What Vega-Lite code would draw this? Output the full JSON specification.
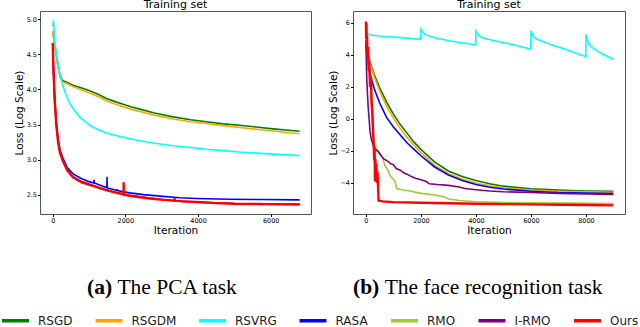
{
  "$schema": "https://vega.github.io/schema/vega-lite/v6.json",
  "padding": {"left": 0, "top": -2, "right": 0, "bottom": 0},
  "background": "white",
  "config": {
    "font": "DejaVu Sans",
    "view": {"stroke": "#555", "strokeWidth": 1},
    "axis": {"labelFont": "DejaVu Sans", "labelFontSize": 6.5, "labelColor": "#000", "titleFont": "DejaVu Sans", "titleFontSize": 10.5, "titleFontWeight": "normal", "titleColor": "#000", "tickSize": 2.5, "tickColor": "#000", "labelPadding": 1, "titlePadding": 1.5, "grid": false, "domain": false},
    "title": {"font": "DejaVu Sans", "fontSize": 11, "fontWeight": "normal", "color": "#000", "offset": 1.5},
    "legend": {"orient": "none", "legendX": -40, "legendY": 294, "direction": "horizontal", "symbolType": "stroke", "symbolSize": 729, "symbolStrokeWidth": 3.5, "labelFont": "DejaVu Sans", "labelFontSize": 12, "labelColor": "#222", "labelOffset": 7, "columnPadding": 15.5, "padding": 0}
  },
  "datasets": {
    "pca": [
      {"method":"RSGD","iter":0,"loss":4.82},{"method":"RSGD","iter":50,"loss":4.65},{"method":"RSGD","iter":100,"loss":4.48},{"method":"RSGD","iter":150,"loss":4.33},{"method":"RSGD","iter":200,"loss":4.2},{"method":"RSGD","iter":250,"loss":4.14},{"method":"RSGD","iter":300,"loss":4.12},{"method":"RSGD","iter":400,"loss":4.1},{"method":"RSGD","iter":560,"loss":4.06},{"method":"RSGD","iter":800,"loss":4.02},{"method":"RSGD","iter":1018,"loss":3.98},{"method":"RSGD","iter":1250,"loss":3.93},{"method":"RSGD","iter":1477,"loss":3.87},{"method":"RSGD","iter":1700,"loss":3.83},{"method":"RSGD","iter":1936,"loss":3.79},{"method":"RSGD","iter":2150,"loss":3.755},{"method":"RSGD","iter":2395,"loss":3.72},{"method":"RSGD","iter":2800,"loss":3.665},{"method":"RSGD","iter":3312,"loss":3.61},{"method":"RSGD","iter":3800,"loss":3.57},{"method":"RSGD","iter":4230,"loss":3.54},{"method":"RSGD","iter":4700,"loss":3.51},{"method":"RSGD","iter":5147,"loss":3.49},{"method":"RSGD","iter":5600,"loss":3.465},{"method":"RSGD","iter":6064,"loss":3.44},{"method":"RSGD","iter":6500,"loss":3.42},{"method":"RSGD","iter":6800,"loss":3.405},
      {"method":"RSGDM","iter":0,"loss":4.82},{"method":"RSGDM","iter":50,"loss":4.64},{"method":"RSGDM","iter":100,"loss":4.47},{"method":"RSGDM","iter":150,"loss":4.31},{"method":"RSGDM","iter":200,"loss":4.18},{"method":"RSGDM","iter":250,"loss":4.12},{"method":"RSGDM","iter":300,"loss":4.1},{"method":"RSGDM","iter":400,"loss":4.08},{"method":"RSGDM","iter":560,"loss":4.04},{"method":"RSGDM","iter":800,"loss":3.99},{"method":"RSGDM","iter":1018,"loss":3.95},{"method":"RSGDM","iter":1250,"loss":3.9},{"method":"RSGDM","iter":1477,"loss":3.84},{"method":"RSGDM","iter":1700,"loss":3.795},{"method":"RSGDM","iter":1936,"loss":3.755},{"method":"RSGDM","iter":2150,"loss":3.72},{"method":"RSGDM","iter":2395,"loss":3.685},{"method":"RSGDM","iter":2800,"loss":3.635},{"method":"RSGDM","iter":3312,"loss":3.58},{"method":"RSGDM","iter":3800,"loss":3.54},{"method":"RSGDM","iter":4230,"loss":3.515},{"method":"RSGDM","iter":4700,"loss":3.485},{"method":"RSGDM","iter":5147,"loss":3.46},{"method":"RSGDM","iter":5600,"loss":3.435},{"method":"RSGDM","iter":6064,"loss":3.41},{"method":"RSGDM","iter":6500,"loss":3.385},{"method":"RSGDM","iter":6800,"loss":3.37},
      {"method":"RSVRG","iter":0,"loss":4.9},{"method":"RSVRG","iter":20,"loss":4.98},{"method":"RSVRG","iter":55,"loss":4.7},{"method":"RSVRG","iter":100,"loss":4.52},{"method":"RSVRG","iter":146,"loss":4.37},{"method":"RSVRG","iter":200,"loss":4.22},{"method":"RSVRG","iter":284,"loss":4.04},{"method":"RSVRG","iter":370,"loss":3.92},{"method":"RSVRG","iter":468,"loss":3.8},{"method":"RSVRG","iter":600,"loss":3.7},{"method":"RSVRG","iter":743,"loss":3.61},{"method":"RSVRG","iter":1018,"loss":3.49},{"method":"RSVRG","iter":1250,"loss":3.43},{"method":"RSVRG","iter":1477,"loss":3.38},{"method":"RSVRG","iter":1936,"loss":3.32},{"method":"RSVRG","iter":2395,"loss":3.27},{"method":"RSVRG","iter":2800,"loss":3.235},{"method":"RSVRG","iter":3312,"loss":3.2},{"method":"RSVRG","iter":3800,"loss":3.175},{"method":"RSVRG","iter":4230,"loss":3.15},{"method":"RSVRG","iter":4700,"loss":3.13},{"method":"RSVRG","iter":5147,"loss":3.11},{"method":"RSVRG","iter":5600,"loss":3.095},{"method":"RSVRG","iter":6064,"loss":3.08},{"method":"RSVRG","iter":6500,"loss":3.07},{"method":"RSVRG","iter":6800,"loss":3.06},
      {"method":"RASA","iter":0,"loss":4.66},{"method":"RASA","iter":20,"loss":4.3},{"method":"RASA","iter":55,"loss":3.86},{"method":"RASA","iter":100,"loss":3.52},{"method":"RASA","iter":146,"loss":3.3},{"method":"RASA","iter":200,"loss":3.14},{"method":"RASA","iter":284,"loss":3.02},{"method":"RASA","iter":400,"loss":2.89},{"method":"RASA","iter":560,"loss":2.8},{"method":"RASA","iter":800,"loss":2.73},{"method":"RASA","iter":1000,"loss":2.69},{"method":"RASA","iter":1130,"loss":2.67},{"method":"RASA","iter":1137,"loss":2.715},{"method":"RASA","iter":1144,"loss":2.668},{"method":"RASA","iter":1202,"loss":2.66},{"method":"RASA","iter":1400,"loss":2.62},{"method":"RASA","iter":1490,"loss":2.605},{"method":"RASA","iter":1495,"loss":2.76},{"method":"RASA","iter":1500,"loss":2.6},{"method":"RASA","iter":1700,"loss":2.575},{"method":"RASA","iter":1770,"loss":2.565},{"method":"RASA","iter":1773,"loss":2.585},{"method":"RASA","iter":1776,"loss":2.563},{"method":"RASA","iter":2119,"loss":2.53},{"method":"RASA","iter":2500,"loss":2.505},{"method":"RASA","iter":3037,"loss":2.48},{"method":"RASA","iter":3500,"loss":2.46},{"method":"RASA","iter":3955,"loss":2.45},{"method":"RASA","iter":4873,"loss":2.44},{"method":"RASA","iter":5790,"loss":2.435},{"method":"RASA","iter":6800,"loss":2.43},
      {"method":"I-RMO","iter":0,"loss":4.65},{"method":"I-RMO","iter":20,"loss":4.28},{"method":"I-RMO","iter":55,"loss":3.84},{"method":"I-RMO","iter":100,"loss":3.5},{"method":"I-RMO","iter":146,"loss":3.27},{"method":"I-RMO","iter":200,"loss":3.11},{"method":"I-RMO","iter":284,"loss":2.99},{"method":"I-RMO","iter":400,"loss":2.86},{"method":"I-RMO","iter":560,"loss":2.76},{"method":"I-RMO","iter":800,"loss":2.69},{"method":"I-RMO","iter":1110,"loss":2.635},{"method":"I-RMO","iter":1400,"loss":2.585},{"method":"I-RMO","iter":1753,"loss":2.535},{"method":"I-RMO","iter":2119,"loss":2.495},{"method":"I-RMO","iter":2670,"loss":2.455},{"method":"I-RMO","iter":3037,"loss":2.435},{"method":"I-RMO","iter":3350,"loss":2.42},{"method":"I-RMO","iter":3358,"loss":2.47},{"method":"I-RMO","iter":3366,"loss":2.42},{"method":"I-RMO","iter":3587,"loss":2.41},{"method":"I-RMO","iter":3955,"loss":2.4},{"method":"I-RMO","iter":4500,"loss":2.39},{"method":"I-RMO","iter":5000,"loss":2.38},{"method":"I-RMO","iter":5700,"loss":2.375},{"method":"I-RMO","iter":5703,"loss":2.39},{"method":"I-RMO","iter":5706,"loss":2.375},{"method":"I-RMO","iter":6800,"loss":2.37},
      {"method":"Ours","iter":0,"loss":4.66},{"method":"Ours","iter":20,"loss":4.29},{"method":"Ours","iter":55,"loss":3.84},{"method":"Ours","iter":100,"loss":3.49},{"method":"Ours","iter":146,"loss":3.26},{"method":"Ours","iter":200,"loss":3.1},{"method":"Ours","iter":284,"loss":2.98},{"method":"Ours","iter":400,"loss":2.85},{"method":"Ours","iter":560,"loss":2.75},{"method":"Ours","iter":800,"loss":2.68},{"method":"Ours","iter":1110,"loss":2.63},{"method":"Ours","iter":1400,"loss":2.58},{"method":"Ours","iter":1753,"loss":2.53},{"method":"Ours","iter":1950,"loss":2.51},{"method":"Ours","iter":1953,"loss":2.68},{"method":"Ours","iter":1956,"loss":2.505},{"method":"Ours","iter":2119,"loss":2.49},{"method":"Ours","iter":2670,"loss":2.45},{"method":"Ours","iter":3037,"loss":2.43},{"method":"Ours","iter":3587,"loss":2.41},{"method":"Ours","iter":3955,"loss":2.4},{"method":"Ours","iter":4500,"loss":2.385},{"method":"Ours","iter":5000,"loss":2.375},{"method":"Ours","iter":5800,"loss":2.37},{"method":"Ours","iter":6800,"loss":2.365}
    ],
    "face": [
      {"method":"RSGD","iter":0,"loss":4.6},{"method":"RSGD","iter":100,"loss":3.9},{"method":"RSGD","iter":200,"loss":3.3},{"method":"RSGD","iter":300,"loss":2.8},{"method":"RSGD","iter":500,"loss":1.95},{"method":"RSGD","iter":750,"loss":1.05},{"method":"RSGD","iter":1000,"loss":0.3},{"method":"RSGD","iter":1250,"loss":-0.35},{"method":"RSGD","iter":1500,"loss":-0.9},{"method":"RSGD","iter":1750,"loss":-1.45},{"method":"RSGD","iter":2000,"loss":-1.9},{"method":"RSGD","iter":2500,"loss":-2.7},{"method":"RSGD","iter":3000,"loss":-3.25},{"method":"RSGD","iter":3500,"loss":-3.6},{"method":"RSGD","iter":4000,"loss":-3.85},{"method":"RSGD","iter":4500,"loss":-4.05},{"method":"RSGD","iter":5000,"loss":-4.2},{"method":"RSGD","iter":6000,"loss":-4.37},{"method":"RSGD","iter":7000,"loss":-4.45},{"method":"RSGD","iter":8000,"loss":-4.5},{"method":"RSGD","iter":9000,"loss":-4.52},
      {"method":"RSGDM","iter":0,"loss":4.6},{"method":"RSGDM","iter":100,"loss":3.85},{"method":"RSGDM","iter":200,"loss":3.2},{"method":"RSGDM","iter":300,"loss":2.65},{"method":"RSGDM","iter":500,"loss":1.75},{"method":"RSGDM","iter":750,"loss":0.8},{"method":"RSGDM","iter":1000,"loss":0.05},{"method":"RSGDM","iter":1250,"loss":-0.6},{"method":"RSGDM","iter":1500,"loss":-1.15},{"method":"RSGDM","iter":1750,"loss":-1.65},{"method":"RSGDM","iter":2000,"loss":-2.1},{"method":"RSGDM","iter":2500,"loss":-2.9},{"method":"RSGDM","iter":3000,"loss":-3.4},{"method":"RSGDM","iter":3500,"loss":-3.75},{"method":"RSGDM","iter":4000,"loss":-4.0},{"method":"RSGDM","iter":4500,"loss":-4.18},{"method":"RSGDM","iter":5000,"loss":-4.3},{"method":"RSGDM","iter":6000,"loss":-4.45},{"method":"RSGDM","iter":7000,"loss":-4.52},{"method":"RSGDM","iter":8000,"loss":-4.56},{"method":"RSGDM","iter":9000,"loss":-4.58},
      {"method":"RSVRG","iter":0,"loss":5.4},{"method":"RSVRG","iter":100,"loss":5.28},{"method":"RSVRG","iter":300,"loss":5.22},{"method":"RSVRG","iter":600,"loss":5.17},{"method":"RSVRG","iter":1000,"loss":5.12},{"method":"RSVRG","iter":1400,"loss":5.07},{"method":"RSVRG","iter":1700,"loss":5.03},{"method":"RSVRG","iter":1995,"loss":4.98},{"method":"RSVRG","iter":2000,"loss":5.62},{"method":"RSVRG","iter":2060,"loss":5.45},{"method":"RSVRG","iter":2145,"loss":5.3},{"method":"RSVRG","iter":2300,"loss":5.18},{"method":"RSVRG","iter":2509,"loss":5.08},{"method":"RSVRG","iter":2850,"loss":4.95},{"method":"RSVRG","iter":3236,"loss":4.83},{"method":"RSVRG","iter":3600,"loss":4.73},{"method":"RSVRG","iter":3995,"loss":4.63},{"method":"RSVRG","iter":4000,"loss":5.5},{"method":"RSVRG","iter":4085,"loss":5.25},{"method":"RSVRG","iter":4200,"loss":5.1},{"method":"RSVRG","iter":4450,"loss":4.98},{"method":"RSVRG","iter":4850,"loss":4.83},{"method":"RSVRG","iter":5298,"loss":4.67},{"method":"RSVRG","iter":5650,"loss":4.52},{"method":"RSVRG","iter":5995,"loss":4.37},{"method":"RSVRG","iter":6000,"loss":5.52},{"method":"RSVRG","iter":6085,"loss":5.15},{"method":"RSVRG","iter":6250,"loss":4.97},{"method":"RSVRG","iter":6509,"loss":4.79},{"method":"RSVRG","iter":6850,"loss":4.58},{"method":"RSVRG","iter":7236,"loss":4.37},{"method":"RSVRG","iter":7600,"loss":4.14},{"method":"RSVRG","iter":7995,"loss":3.9},{"method":"RSVRG","iter":8000,"loss":5.29},{"method":"RSVRG","iter":8085,"loss":4.73},{"method":"RSVRG","iter":8250,"loss":4.45},{"method":"RSVRG","iter":8448,"loss":4.21},{"method":"RSVRG","iter":8700,"loss":3.98},{"method":"RSVRG","iter":9000,"loss":3.73},
      {"method":"RASA","iter":0,"loss":4.9},{"method":"RASA","iter":100,"loss":3.3},{"method":"RASA","iter":200,"loss":2.5},{"method":"RASA","iter":300,"loss":1.9},{"method":"RASA","iter":500,"loss":1.0},{"method":"RASA","iter":750,"loss":0.1},{"method":"RASA","iter":1000,"loss":-0.5},{"method":"RASA","iter":1250,"loss":-1.0},{"method":"RASA","iter":1500,"loss":-1.5},{"method":"RASA","iter":1750,"loss":-1.9},{"method":"RASA","iter":2000,"loss":-2.3},{"method":"RASA","iter":2500,"loss":-3.0},{"method":"RASA","iter":3000,"loss":-3.5},{"method":"RASA","iter":3500,"loss":-3.85},{"method":"RASA","iter":4000,"loss":-4.1},{"method":"RASA","iter":4500,"loss":-4.27},{"method":"RASA","iter":5000,"loss":-4.38},{"method":"RASA","iter":6000,"loss":-4.52},{"method":"RASA","iter":7000,"loss":-4.6},{"method":"RASA","iter":8000,"loss":-4.63},{"method":"RASA","iter":9000,"loss":-4.66},
      {"method":"RMO","iter":0,"loss":4.7},{"method":"RMO","iter":100,"loss":3.4},{"method":"RMO","iter":150,"loss":2.3},{"method":"RMO","iter":200,"loss":0.8},{"method":"RMO","iter":250,"loss":-0.6},{"method":"RMO","iter":300,"loss":-1.6},{"method":"RMO","iter":400,"loss":-1.9},{"method":"RMO","iter":500,"loss":-2.1},{"method":"RMO","iter":600,"loss":-2.4},{"method":"RMO","iter":700,"loss":-2.95},{"method":"RMO","iter":800,"loss":-3.2},{"method":"RMO","iter":900,"loss":-3.6},{"method":"RMO","iter":1050,"loss":-3.85},{"method":"RMO","iter":1120,"loss":-4.35},{"method":"RMO","iter":1300,"loss":-4.42},{"method":"RMO","iter":1600,"loss":-4.5},{"method":"RMO","iter":2000,"loss":-4.65},{"method":"RMO","iter":2500,"loss":-4.75},{"method":"RMO","iter":2800,"loss":-4.85},{"method":"RMO","iter":3000,"loss":-5.0},{"method":"RMO","iter":3400,"loss":-5.1},{"method":"RMO","iter":4000,"loss":-5.17},{"method":"RMO","iter":5000,"loss":-5.22},{"method":"RMO","iter":6000,"loss":-5.24},{"method":"RMO","iter":7000,"loss":-5.26},{"method":"RMO","iter":8000,"loss":-5.27},{"method":"RMO","iter":9000,"loss":-5.28},
      {"method":"I-RMO","iter":0,"loss":4.7},{"method":"I-RMO","iter":30,"loss":2.5},{"method":"I-RMO","iter":80,"loss":0.8},{"method":"I-RMO","iter":150,"loss":-0.8},{"method":"I-RMO","iter":200,"loss":-1.3},{"method":"I-RMO","iter":280,"loss":-1.7},{"method":"I-RMO","iter":350,"loss":-1.9},{"method":"I-RMO","iter":450,"loss":-2.05},{"method":"I-RMO","iter":550,"loss":-2.3},{"method":"I-RMO","iter":650,"loss":-2.5},{"method":"I-RMO","iter":800,"loss":-2.65},{"method":"I-RMO","iter":900,"loss":-2.8},{"method":"I-RMO","iter":1000,"loss":-2.85},{"method":"I-RMO","iter":1100,"loss":-3.1},{"method":"I-RMO","iter":1250,"loss":-3.2},{"method":"I-RMO","iter":1400,"loss":-3.4},{"method":"I-RMO","iter":1500,"loss":-3.45},{"method":"I-RMO","iter":1650,"loss":-3.6},{"method":"I-RMO","iter":1800,"loss":-3.7},{"method":"I-RMO","iter":2000,"loss":-3.8},{"method":"I-RMO","iter":2200,"loss":-3.9},{"method":"I-RMO","iter":2300,"loss":-4.05},{"method":"I-RMO","iter":2600,"loss":-4.1},{"method":"I-RMO","iter":3000,"loss":-4.15},{"method":"I-RMO","iter":3400,"loss":-4.25},{"method":"I-RMO","iter":3600,"loss":-4.35},{"method":"I-RMO","iter":4000,"loss":-4.42},{"method":"I-RMO","iter":4500,"loss":-4.5},{"method":"I-RMO","iter":5000,"loss":-4.55},{"method":"I-RMO","iter":6000,"loss":-4.6},{"method":"I-RMO","iter":7000,"loss":-4.65},{"method":"I-RMO","iter":8000,"loss":-4.68},{"method":"I-RMO","iter":9000,"loss":-4.72},
      {"method":"Ours","iter":0,"loss":6.1},{"method":"Ours","iter":10,"loss":5.0},{"method":"Ours","iter":20,"loss":6.0},{"method":"Ours","iter":30,"loss":4.2},{"method":"Ours","iter":40,"loss":5.2},{"method":"Ours","iter":60,"loss":3.8},{"method":"Ours","iter":80,"loss":4.5},{"method":"Ours","iter":100,"loss":3.0},{"method":"Ours","iter":120,"loss":3.6},{"method":"Ours","iter":150,"loss":2.0},{"method":"Ours","iter":180,"loss":2.6},{"method":"Ours","iter":210,"loss":1.0},{"method":"Ours","iter":240,"loss":0.2},{"method":"Ours","iter":260,"loss":-0.8},{"method":"Ours","iter":280,"loss":-1.5},{"method":"Ours","iter":300,"loss":-2.6},{"method":"Ours","iter":315,"loss":-1.8},{"method":"Ours","iter":330,"loss":-3.9},{"method":"Ours","iter":345,"loss":-2.5},{"method":"Ours","iter":360,"loss":-3.5},{"method":"Ours","iter":380,"loss":-2.8},{"method":"Ours","iter":400,"loss":-4.0},{"method":"Ours","iter":420,"loss":-3.3},{"method":"Ours","iter":440,"loss":-4.2},{"method":"Ours","iter":460,"loss":-5.1},{"method":"Ours","iter":600,"loss":-5.15},{"method":"Ours","iter":1000,"loss":-5.2},{"method":"Ours","iter":2000,"loss":-5.24},{"method":"Ours","iter":3000,"loss":-5.27},{"method":"Ours","iter":4000,"loss":-5.3},{"method":"Ours","iter":5000,"loss":-5.32},{"method":"Ours","iter":6000,"loss":-5.34},{"method":"Ours","iter":7000,"loss":-5.36},{"method":"Ours","iter":8000,"loss":-5.38},{"method":"Ours","iter":9000,"loss":-5.4}
    ],
    "captions": [
      {"panel":"a","tag":"(a)","caption":"The PCA task"},
      {"panel":"b","tag":"(b)","caption":"The face recognition task"}
    ]
  },
  "resolve": {"scale": {"color": "shared"}, "legend": {"color": "shared"}},
  "spacing": 40,
  "vconcat": [
    {
      "bounds": "flush",
      "spacing": 42,
      "resolve": {"scale": {"color": "shared", "x": "independent", "y": "independent"}, "legend": {"color": "shared"}},
      "hconcat": [
        {
          "width": 271, "height": 203,
          "title": "Training set",
          "data": {"name": "pca"},
          "encoding": {
            "x": {"field": "iter", "type": "quantitative", "scale": {"domain": [-350, 7110], "nice": false, "zero": false}, "axis": {"title": "Iteration", "values": [0, 2000, 4000, 6000], "format": "d"}},
            "y": {"field": "loss", "type": "quantitative", "scale": {"domain": [2.23, 5.114], "nice": false, "zero": false}, "axis": {"title": "Loss (Log Scale)", "values": [2.5, 3.0, 3.5, 4.0, 4.5, 5.0], "format": ".1f"}},
            "color": {"field": "method", "type": "nominal", "scale": {"domain": ["RSGD", "RSGDM", "RSVRG", "RASA", "RMO", "I-RMO", "Ours"], "range": ["#008000", "#FFA500", "#00FFFF", "#0000FF", "#9ACD32", "#800080", "#FF0000"]}, "legend": {"title": null}}
          },
          "layer": [
            {"transform": [{"filter": "datum.method !== 'Ours'"}], "mark": {"type": "line", "strokeWidth": 1.6, "clip": true}},
            {"transform": [{"filter": "datum.method === 'Ours'"}], "mark": {"type": "line", "strokeWidth": 2.4, "clip": true}}
          ]
        },
        {
          "width": 272, "height": 203,
          "title": "Training set",
          "data": {"name": "face"},
          "encoding": {
            "x": {"field": "iter", "type": "quantitative", "scale": {"domain": [-470, 9420], "nice": false, "zero": false}, "axis": {"title": "Iteration", "values": [0, 2000, 4000, 6000, 8000], "format": "d"}},
            "y": {"field": "loss", "type": "quantitative", "scale": {"domain": [-5.94, 6.75], "nice": false, "zero": false}, "axis": {"title": "Loss (Log Scale)", "values": [-4, -2, 0, 2, 4, 6], "format": "d"}},
            "color": {"field": "method", "type": "nominal", "scale": {"domain": ["RSGD", "RSGDM", "RSVRG", "RASA", "RMO", "I-RMO", "Ours"], "range": ["#008000", "#FFA500", "#00FFFF", "#0000FF", "#9ACD32", "#800080", "#FF0000"]}, "legend": {"title": null}}
          },
          "layer": [
            {"transform": [{"filter": "datum.method !== 'Ours'"}], "mark": {"type": "line", "strokeWidth": 1.6, "clip": true}},
            {"transform": [{"filter": "datum.method === 'Ours'"}], "mark": {"type": "line", "strokeWidth": 2.4, "clip": true}}
          ]
        }
      ]
    },
    {
      "bounds": "flush",
      "spacing": 42,
      "resolve": {"scale": {"y": "independent"}},
      "hconcat": [
        {
          "width": 271, "height": 20,
          "view": {"stroke": null},
          "data": {"name": "captions"},
          "transform": [{"filter": "datum.panel === 'a'"}],
          "encoding": {"y": {"field": "panel", "type": "nominal", "axis": null}},
          "layer": [
            {"mark": {"type": "text", "font": "Liberation Serif", "fontSize": 21.5, "fontWeight": "bold", "align": "left", "baseline": "alphabetic", "dx": -88.5, "dy": 7, "color": "#000"}, "encoding": {"text": {"field": "tag"}}},
            {"mark": {"type": "text", "font": "Liberation Serif", "fontSize": 21.5, "align": "left", "baseline": "alphabetic", "dx": -58.1, "dy": 7, "color": "#000"}, "encoding": {"text": {"field": "caption"}}}
          ]
        },
        {
          "width": 272, "height": 20,
          "view": {"stroke": null},
          "data": {"name": "captions"},
          "transform": [{"filter": "datum.panel === 'b'"}],
          "encoding": {"y": {"field": "panel", "type": "nominal", "axis": null}},
          "layer": [
            {"mark": {"type": "text", "font": "Liberation Serif", "fontSize": 21.5, "fontWeight": "bold", "align": "left", "baseline": "alphabetic", "dx": -136, "dy": 7, "color": "#000"}, "encoding": {"text": {"field": "tag"}}},
            {"mark": {"type": "text", "font": "Liberation Serif", "fontSize": 21.5, "align": "left", "baseline": "alphabetic", "dx": -104.3, "dy": 7, "color": "#000"}, "encoding": {"text": {"field": "caption"}}}
          ]
        }
      ]
    }
  ]
}
